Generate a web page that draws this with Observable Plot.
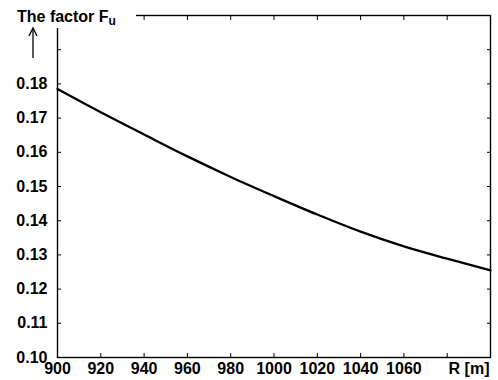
<!DOCTYPE html>
<html>
<head>
<meta charset="utf-8">
<script src="https://cdn.jsdelivr.net/npm/d3@7"></script>
<script src="https://cdn.jsdelivr.net/npm/@observablehq/plot@0.6"></script>
<style>
  html, body { margin: 0; padding: 0; background: #fff; }
  #wrap { position: relative; width: 498px; height: 380px; font-family: "Liberation Sans", Arial, sans-serif; }
  #title { position: absolute; left: 8px; top: 0px; width: 128px; height: 28px; background: #fff;
           font-weight: bold; font-size: 16px; color: #000; line-height: 16px; padding-top: 9px; box-sizing: border-box; padding-left: 9px; }
  #title sub { font-size: 12px; vertical-align: -3px; line-height: 0; }
  #arrow { position: absolute; left: 27px; top: 26px; }
</style>
</head>
<body>
<div id="wrap">
  <div id="chart"></div>
  <div id="title">The factor F<sub>u</sub></div>
  <svg id="arrow" width="12" height="34"><line x1="6" y1="3" x2="6" y2="32" stroke="#000" stroke-width="1.3"/><path d="M2,10 L6,2 L10,10" fill="none" stroke="#000" stroke-width="1.3"/></svg>
</div>
<script>
const radius = [900, 920, 940, 960, 980, 1000, 1020, 1040, 1060, 1080, 1100];
const factor = [0.1785, 0.1717, 0.1652, 0.1588, 0.1528, 0.1472, 0.1418, 0.1368, 0.1325, 0.1289, 0.1255];
const xTicks = [900, 920, 940, 960, 980, 1000, 1020, 1040, 1060, 1080, 1100];
const xLabelMax = 1060;
const yTicks = [0.10, 0.11, 0.12, 0.13, 0.14, 0.15, 0.16, 0.17, 0.18, 0.19, 0.20];
const yLabelMax = 0.18;
const xUnit = "R [m]";

const data = radius.map((r, i) => ({r, f: factor[i]}));
const font = {fontWeight: "bold", fontSize: 16, fill: "#000"};

const chart = Plot.plot({
  width: 498,
  height: 380,
  marginLeft: 57,
  marginRight: 8,
  marginTop: 15,
  marginBottom: 23,
  style: {fontFamily: "Liberation Sans, Arial, sans-serif", fontSize: "16px", fontWeight: "bold", color: "#000", background: "#fff"},
  x: {domain: [900, 1100]},
  y: {domain: [0.10, 0.20]},
  marks: [
    Plot.frame({stroke: "#000", strokeWidth: 1.4}),
    Plot.axisX({ticks: xTicks, anchor: "bottom", tickSize: -4, tickPadding: 9, label: null,
      tickFormat: d => d <= xLabelMax ? String(d) : "", ...font}),
    Plot.axisX({ticks: xTicks, anchor: "top", tickSize: -4, label: null, tickFormat: () => ""}),
    Plot.axisY({ticks: yTicks, anchor: "left", tickSize: -4, tickPadding: 14, label: null,
      tickFormat: d => d <= yLabelMax + 1e-9 ? d.toFixed(2) : "", ...font}),
    Plot.axisY({ticks: yTicks, anchor: "right", tickSize: -4, label: null, tickFormat: () => ""}),
    Plot.line(data, {x: "r", y: "f", stroke: "#000", strokeWidth: 2.3, curve: "monotone-x"}),
    Plot.text([xUnit], {frameAnchor: "bottom-right", textAnchor: "end", lineAnchor: "top", dy: 5, dx: -1, ...font})
  ]
});
document.getElementById("chart").appendChild(chart);
</script>
</body>
</html>
